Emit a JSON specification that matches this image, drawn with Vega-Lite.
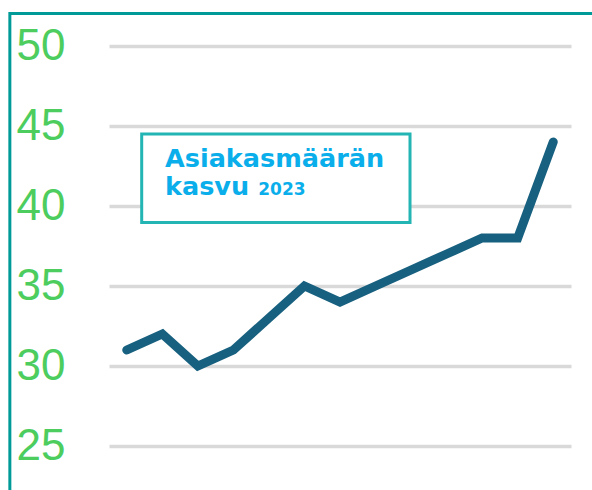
{
  "$schema": "https://vega.github.io/schema/vega-lite/v6.json",
  "width": 462,
  "height": 400,
  "autosize": "none",
  "padding": {"left": 109, "top": 46, "right": 21, "bottom": 44},
  "background": "white",
  "config": {"view": {"stroke": null}},
  "layer": [
    {
      "data": {"values": [{"k": "frame"}]},
      "mark": {"type": "rect", "fillOpacity": 0, "stroke": "#009a98", "strokeWidth": 3, "clip": false},
      "encoding": {
        "x": {"datum": -3.29, "type": "quantitative", "scale": {"domain": [-0.5, 12.5], "nice": false, "zero": false}, "axis": null},
        "x2": {"datum": 15},
        "y": {"datum": 52.03, "type": "quantitative", "scale": {"domain": [25, 50], "nice": false, "zero": false}},
        "y2": {"datum": 10}
      }
    },
    {
      "data": {"values": [
        {"i": 0, "v": 31}, {"i": 1, "v": 32}, {"i": 2, "v": 30}, {"i": 3, "v": 31},
        {"i": 4, "v": 33}, {"i": 5, "v": 35}, {"i": 6, "v": 34}, {"i": 7, "v": 35},
        {"i": 8, "v": 36}, {"i": 9, "v": 37}, {"i": 10, "v": 38}, {"i": 11, "v": 38},
        {"i": 12, "v": 44}
      ]},
      "mark": {"type": "line", "color": "#17607f", "strokeWidth": 9, "strokeCap": "round", "strokeJoin": "miter", "clip": false},
      "encoding": {
        "x": {"field": "i", "type": "quantitative", "scale": {"domain": [-0.5, 12.5], "nice": false, "zero": false}, "axis": null},
        "y": {"field": "v", "type": "quantitative", "scale": {"domain": [25, 50], "nice": false, "zero": false},
          "axis": {"values": [25, 30, 35, 40, 45, 50], "grid": true, "gridColor": "#d9d9d9", "gridWidth": 3.5,
            "domain": false, "ticks": false, "labelFont": "Liberation Sans", "labelFontSize": 44,
            "labelColor": "#4ccd5e", "labelPadding": 44, "title": null}}
      }
    },
    {
      "data": {"values": [{"k": "box"}]},
      "mark": {"type": "rect", "fill": "white", "stroke": "#23b5b3", "strokeWidth": 3, "clip": false},
      "encoding": {
        "x": {"datum": 0.42, "type": "quantitative", "scale": {"domain": [-0.5, 12.5], "nice": false, "zero": false}},
        "x2": {"datum": 7.97},
        "y": {"datum": 44.5, "type": "quantitative", "scale": {"domain": [25, 50], "nice": false, "zero": false}},
        "y2": {"datum": 38.97}
      }
    },
    {
      "data": {"values": [{"t": "Asiakasmäärän"}]},
      "mark": {"type": "text", "align": "left", "baseline": "alphabetic", "font": "DejaVu Sans", "fontWeight": "bold", "fontSize": 25.5, "color": "#0aaeea", "clip": false},
      "encoding": {
        "x": {"datum": 1.076, "type": "quantitative", "scale": {"domain": [-0.5, 12.5], "nice": false, "zero": false}},
        "y": {"datum": 42.44, "type": "quantitative", "scale": {"domain": [25, 50], "nice": false, "zero": false}},
        "text": {"field": "t"}
      }
    },
    {
      "data": {"values": [{"t": "kasvu"}]},
      "mark": {"type": "text", "align": "left", "baseline": "alphabetic", "font": "DejaVu Sans", "fontWeight": "bold", "fontSize": 25.5, "color": "#0aaeea", "clip": false},
      "encoding": {
        "x": {"datum": 1.076, "type": "quantitative", "scale": {"domain": [-0.5, 12.5], "nice": false, "zero": false}},
        "y": {"datum": 40.69, "type": "quantitative", "scale": {"domain": [25, 50], "nice": false, "zero": false}},
        "text": {"field": "t"}
      }
    },
    {
      "data": {"values": [{"t": "2023"}]},
      "mark": {"type": "text", "align": "left", "baseline": "alphabetic", "font": "DejaVu Sans", "fontWeight": "bold", "fontSize": 17, "color": "#0aaeea", "clip": false},
      "encoding": {
        "x": {"datum": 3.7, "type": "quantitative", "scale": {"domain": [-0.5, 12.5], "nice": false, "zero": false}},
        "y": {"datum": 40.69, "type": "quantitative", "scale": {"domain": [25, 50], "nice": false, "zero": false}},
        "text": {"field": "t"}
      }
    }
  ]
}
